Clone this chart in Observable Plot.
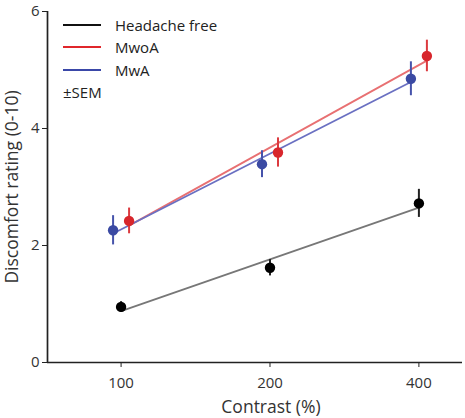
<!DOCTYPE html>
<html><head><meta charset="utf-8">
<script src="https://cdn.jsdelivr.net/npm/d3@7"></script>
<script src="https://cdn.jsdelivr.net/npm/@observablehq/plot@0.6"></script>
<style>
body{margin:0;background:#fff;font-family:"Open Sans",sans-serif}
#wrap{position:relative;width:465px;height:418px}
.legend{position:absolute;left:63px;top:14px;font-size:15px;color:#222;line-height:22.3px;font-family:"Open Sans",sans-serif}
.legend .row{display:flex;align-items:center;height:22.3px}
.legend .sw{display:inline-block;width:38px;height:2px;margin-right:14px}
</style></head>
<body><div id="wrap"></div>
<script>
const contrast = [100, 200, 400];
const groups = ["Headache free", "MwoA", "MwA"];
const headacheFree = [0.95, 1.62, 2.72];
const headacheFreeSem = [0.09, 0.14, 0.24];
const mwoa = [2.42, 3.59, 5.24];
const mwoaSem = [0.22, 0.25, 0.27];
const mwa = [2.26, 3.39, 4.85];
const mwaSem = [0.25, 0.23, 0.29];
const yTicks = [0, 2, 4, 6];

const dotColors = {"Headache free": "#000000", "MwoA": "#d8262c", "MwA": "#3b4aa3"};
const barColors = {"Headache free": "#222222", "MwoA": "#dc3a3f", "MwA": "#4653ab"};
const fitColors = {"Headache free": "#777777", "MwoA": "#e87072", "MwA": "#6a70c2"};
const legendColors = {"Headache free": "#111111", "MwoA": "#e0262b", "MwA": "#3a48a8"};
const offsets = {"Headache free": 0, "MwoA": 8, "MwA": -8};

const series = {"Headache free": [headacheFree, headacheFreeSem], "MwoA": [mwoa, mwoaSem], "MwA": [mwa, mwaSem]};
const xDomain = [71, 490];

function fit(vals) {
  const xs = contrast.map(c => Math.log2(c));
  const mx = d3.mean(xs), my = d3.mean(vals);
  const slope = d3.sum(xs, (x, i) => (x - mx) * (vals[i] - my)) / d3.sum(xs, x => (x - mx) ** 2);
  const b = my - slope * mx;
  const ends = [d3.min(contrast), d3.max(contrast)];
  return ends.map(c => ({c, v: b + slope * Math.log2(c)}));
}

const marks = [
  Plot.axisY({ticks: yTicks, tickFormat: d => String(d), tickSize: 5, tickPadding: 3, label: null, stroke: "#222", fill: "#333", fontSize: 15}),
  Plot.axisX({ticks: contrast, tickFormat: d => String(d), tickSize: 5, tickPadding: 10, label: null, stroke: "#222", fill: "#333", fontSize: 15}),
  Plot.ruleY([0], {stroke: "#222", strokeWidth: 1.7}),
  Plot.ruleX([xDomain[0]], {y1: 0, y2: 6, stroke: "#222", strokeWidth: 1.7}),
  Plot.text(["Contrast (%)"], {frameAnchor: "bottom", textAnchor: "middle", lineAnchor: "middle", dx: 16, dy: 45, fontSize: 17.5, fill: "#333"}),
  Plot.text(["Discomfort rating (0-10)"], {frameAnchor: "left", textAnchor: "middle", lineAnchor: "middle", rotate: -90, dx: -35, fontSize: 17.5, fill: "#333"})
];

for (const g of groups) {
  const [vals] = series[g];
  marks.push(Plot.line(fit(vals), {x: "c", y: "v", stroke: fitColors[g], strokeWidth: 1.8, dx: offsets[g]}));
}
for (const g of groups) {
  const [vals, sem] = series[g];
  const rows = contrast.map((c, i) => ({c, v: vals[i], lo: vals[i] - sem[i], hi: vals[i] + sem[i]}));
  marks.push(Plot.ruleX(rows, {x: "c", y1: "lo", y2: "hi", stroke: barColors[g], strokeWidth: 2, dx: offsets[g]}));
  marks.push(Plot.dot(rows, {x: "c", y: "v", r: 5.2, fill: dotColors[g], dx: offsets[g]}));
}

const chart = Plot.plot({
  width: 465, height: 418,
  marginLeft: 47, marginRight: 3, marginTop: 11, marginBottom: 56,
  x: {type: "log", domain: xDomain},
  y: {domain: [0, 6]},
  style: {fontFamily: "Open Sans", fontSize: "15px", color: "#333", background: "transparent"},
  marks
});

const wrap = document.getElementById("wrap");
wrap.appendChild(chart);
const legend = document.createElement("div");
legend.className = "legend";
for (const g of groups) {
  const row = document.createElement("div");
  row.className = "row";
  const sw = document.createElement("span");
  sw.className = "sw";
  sw.style.background = legendColors[g];
  row.appendChild(sw);
  row.appendChild(document.createTextNode(g));
  legend.appendChild(row);
}
const sem = document.createElement("div");
sem.className = "row";
sem.textContent = "±SEM";
legend.appendChild(sem);
wrap.appendChild(legend);
</script>
</body></html>
